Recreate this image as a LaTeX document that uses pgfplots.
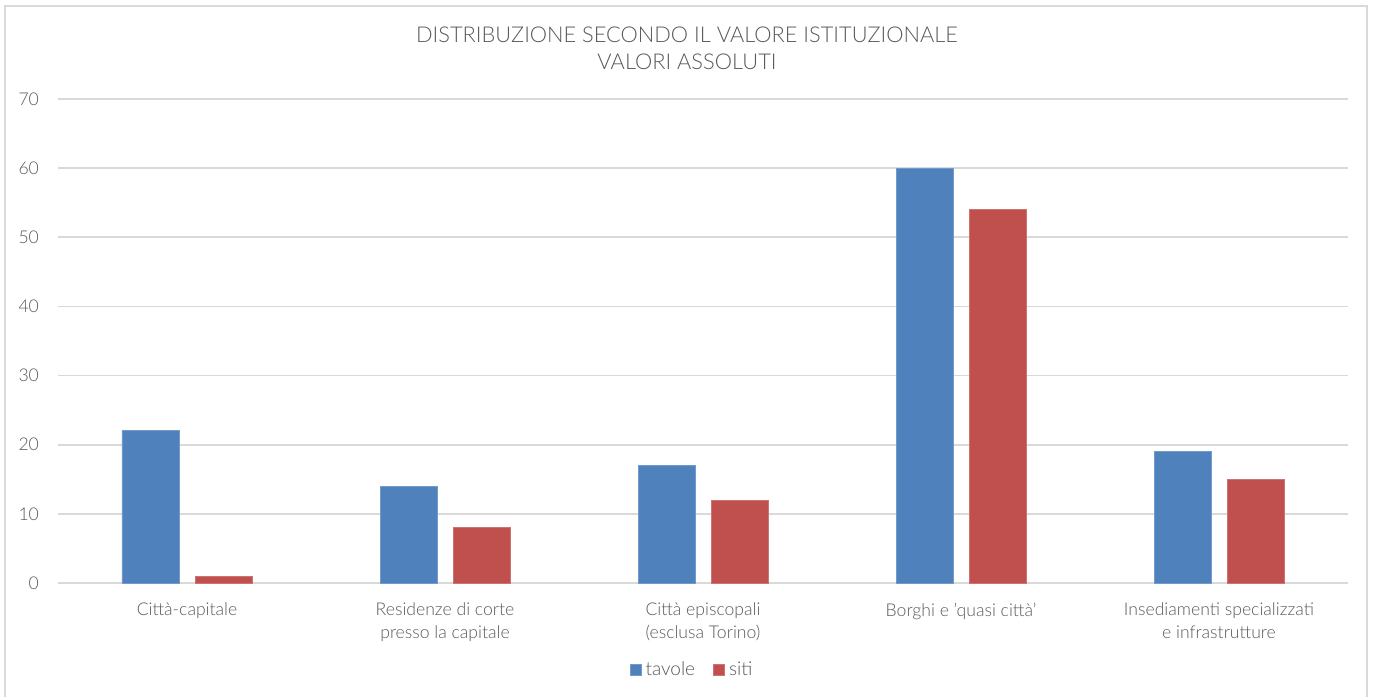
\documentclass[border=0pt]{standalone}
\usepackage{fontspec}
\setmainfont{Lato Light}
\usepackage{pgfplots}
\pgfplotsset{compat=1.18}
\definecolor{tblue}{HTML}{4F81BD}
\definecolor{tred}{HTML}{C0504D}
\definecolor{tgrid}{HTML}{D9D9D9}
\definecolor{ttext}{HTML}{595959}
\begin{document}
\begin{tikzpicture}
\useasboundingbox (0,0) rectangle (686.5pt,348.5pt);
\draw[tgrid, line width=0.8pt] (2.5pt,-2pt) rectangle (683.5pt,345.5pt);
\node[text=ttext, align=center, font=\fontsize{10.9pt}{13.5pt}\selectfont] at (343.5pt,324.5pt) {DISTRIBUZIONE SECONDO IL VALORE ISTITUZIONALE\\VALORI ASSOLUTI};
\begin{axis}[
  at={(29pt,57pt)}, anchor=south west,
  scale only axis, width=645pt, height=242pt,
  ybar=8pt, bar width=28.5pt,
  xmin=-0.5, xmax=4.5, ymin=0, ymax=70,
  ytick={0,10,...,70},
  xtick=data,
  xticklabels={{Città-capitale},{Residenze di corte\\presso la capitale},{Città episcopali\\(esclusa Torino)},{Borghi e 'quasi città'},{Insediamenti specializzati\\e infrastrutture}},
  xticklabel style={align=center, text=ttext, font=\fontsize{8.8pt}{11.5pt}\selectfont, yshift=-6.5pt},
  yticklabel style={text=ttext, font=\fontsize{8.8pt}{10pt}\selectfont, xshift=-6pt},
  /pgf/number format/assume math mode=true,
  major tick length=0pt,
  axis line style={draw=none},
  ymajorgrids, grid style={tgrid, line width=0.8pt},
  legend style={at={(0.5,-0.18)}, anchor=center, xshift=-5pt, draw=none, legend columns=2, font=\fontsize{9.5pt}{10pt}\selectfont, text=ttext, /tikz/every even column/.append style={column sep=7pt}},
  legend image code/.code={\fill[#1] (0pt,-2.8pt) rectangle (5.6pt,2.8pt);},
]
\addplot[fill=tblue, draw=tblue!80!white] coordinates {(0,22) (1,14) (2,17) (3,60) (4,19)};
\addplot[fill=tred, draw=tred!80!white] coordinates {(0,1) (1,8) (2,12) (3,54) (4,15)};
\legend{tavole, siti}
\end{axis}
\end{tikzpicture}
\end{document}
